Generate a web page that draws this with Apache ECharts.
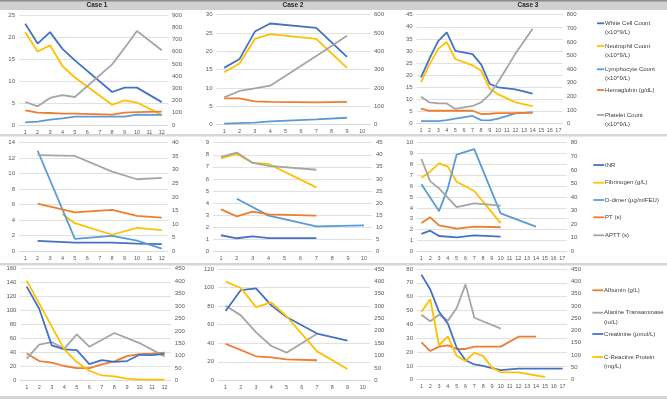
<!DOCTYPE html>
<html><head><meta charset="utf-8">
<script src="https://cdn.jsdelivr.net/npm/echarts@6/dist/echarts.min.js"></script>
<style>html,body{margin:0;padding:0;background:#fff}#c{width:667px;height:402px}</style>
</head><body><div id="c"></div>
<script>
// ---------- categories (day numbers) ----------
const case1Days = ['1','2','3','4','5','6','7','8','9','10','11','12'];
const case2Days = ['1','2','3','4','5','6','7','8','9','10'];
const case3Days = ['1','2','3','4','5','6','7','8','9','10','11','12','13','14','15','16','17'];
const caseTitles = ['Case 1','Case 2','Case 3'];

// ---------- Row 1: blood counts ----------
const c1Wbc = [23.0,18.5,21.1,17.3,14.7,null,null,7.5,8.5,8.5,null,5.2];
const c1Neu = [21.1,16.7,18.1,13.4,10.8,null,null,4.6,5.6,5.1,null,2.3];
const c1Lym = [0.6,0.75,1.2,1.5,1.9,null,null,1.9,1.9,2.35,null,2.3];
const c1Hb  = [120,101,98,93,93,null,null,85,101,106,null,109];
const c1Plt = [188,153,221,245,229,null,null,496,630,769,null,611];

const c2Wbc = [15.5,17.9,25.4,27.6,null,null,26.4,null,18.5,null];
const c2Neu = [14.3,16.7,23.4,24.7,null,null,23.4,null,15.5,null];
const c2Lym = [0.3,0.45,0.55,0.9,null,null,1.45,null,1.9,null];
const c2Hb  = [144,144,127,124,null,null,122,null,124,null];
const c2Plt = [149,184,198,213,null,null,375,null,485,null];

const c3Wbc = [19.1,27.0,34.1,37.7,30.1,null,28.7,24.5,16.4,15.0,null,14.2,null,12.4,null,null,null];
const c3Neu = [17.2,24.5,30.9,33.7,26.7,null,24.1,21.9,14.4,12.1,null,8.8,null,7.3,null,null,null];
const c3Lym = [1.1,1.1,1.1,1.5,2.1,null,3.2,1.5,1.4,2.1,null,4.3,null,4.7,null,null,null];
const c3Hb  = [110,95,95,95,95,null,95,71,73,78,null,78,null,81,null,null,null];
const c3Plt = [198,156,149,149,108,null,130,156,215,308,410,516,null,697,null,null,null];

// ---------- Row 2: coagulation ----------
const c1Inr  = [null,1.3,null,null,1.08,null,null,1.08,null,0.95,null,0.9];
const c1Fib  = [null,null,null,4.75,3.6,null,null,2.1,null,3.0,null,2.7];
const c1Dd   = [null,12.96,null,null,1.56,null,null,1.95,null,1.34,null,0.3];
const c1Pt   = [null,17.5,null,null,14.3,null,null,15.2,null,13.0,null,12.3];
const c1Aptt = [null,35.4,null,null,35.1,null,null,29.3,null,26.5,null,27.0];

const c2Inr  = [1.33,1.08,1.24,1.1,null,null,1.1,null,null,null];
const c2Fib  = [7.7,8.07,7.32,7.24,null,null,5.3,null,null,null];
const c2Dd   = [null,4.36,null,2.96,null,null,2.07,null,null,2.15];
const c2Pt   = [17.4,14.5,16.4,15.3,null,null,14.8,null,null,null];
const c2Aptt = [39.1,40.9,36.6,35.4,null,null,33.8,null,null,null];

const c3Inr  = [1.6,1.9,1.41,null,1.29,null,1.47,null,null,1.35,null,null,null,null,null,null,null];
const c3Fib  = [6.78,7.33,8.1,7.8,6.4,null,5.55,null,null,2.6,null,null,null,null,null,null,null];
const c3Dd   = [6.17,null,3.7,5.8,8.9,null,9.4,null,null,3.5,null,null,null,2.27,null,null,null];
const c3Pt   = [20.9,25.0,19.1,null,16.7,null,18.2,null,null,17.7,null,null,null,null,null,null,null];
const c3Aptt = [68,51.5,46.4,null,32.6,null,35.3,null,null,33.6,null,null,null,null,null,null,null];

// ---------- Row 3: biochemistry ----------
const c1Alb = [39,28.1,25.7,21,18.1,18.1,23.3,27.6,35.2,38.1,38.6,40];
const c1Alt = [31.4,51.4,55.2,45.7,66.2,48.6,null,68.1,null,53.8,null,34.8];
const c1Cr  = [378,289,142,126,123,67,83,76,79,104,103,108];
const c1Crp = [402,null,null,126,75,40,21,17,8,4,4,4];

const c2Alb = [39.2,null,25.9,24.8,22.6,null,21.6,null,null,null];
const c2Alt = [80.5,70,51.7,37,29.8,null,50.3,null,null,null];
const c2Cr  = [280,365,372,303,256,null,189,null,160,null];
const c2Crp = [399,373,296,315,259,null,117,null,46,null];

const c3Alb = [27,20.7,23.9,24.8,22.2,22.2,23.9,null,null,23.9,null,31.1,null,31.1,null,null,null];
const c3Alt = [47,42.2,47,42.7,51.8,68.9,44.8,null,null,36.9,null,null,null,null,null,null,null];
const c3Cr  = [427,367,276,228,130,79,62,56,47,39,null,45,null,null,null,null,45];
const c3Crp = [275,327,140,176,96,76,110,96,49,30,null,30,null,null,11,null,null];

// ---------- series names / legend labels ----------
const row1Names = ['White Cell Count (x10^9/L)','Neutrophil Count (x10^9/L)','Lymphocyte Count (x10^9/L)','Hemaglobin (g/dL)','Platelet Count (x10^9/L)'];
const row2Names = ['INR','Fibrinogen (g/L)','D-dimer (μg/mlFEU)','PT (s)','APTT (s)'];
const row3Names = ['Albumin (g/L)','Alanine Transaminase (iu/L)','Creatinine (μmol/L)','C-Reactive Protein (mg/L)'];
const row1Legend = ['White Cell Count\n(x10^9/L)','Neutrophil Count\n(x10^9/L)','Lymphocyte Count\n(x10^9/L)','Hemaglobin (g/dL)','Platelet Count\n(x10^9/L)'];
const row2Legend = ['INR','Fibrinogen (g/L)','D-dimer (μg/mlFEU)','PT (s)','APTT (s)'];
const row3Legend = ['Albumin (g/L)','Alanine Transaminase\n(iu/L)','Creatinine (μmol/L)','C-Reactive Protein\n(mg/L)'];

// ---------- axis scales ----------
const leftMax  = [[25,30,45],[14,9,10],[160,120,80]];
const leftStep = [[5,5,5],[2,1,1],[20,20,10]];
const rightMax = [[900,600,800],[40,45,80],[450,450,450]];
const rightStep= [[100,100,100],[5,5,10],[50,50,50]];

// ---------- styling ----------
const C_DB = '#4472C4', C_Y = '#FFC000', C_LB = '#5B9BD5', C_O = '#ED7D31', C_G = '#A5A5A5';
const row1Colors = [C_DB, C_Y, C_LB, C_O, C_G];
const row2Colors = [C_DB, C_Y, C_LB, C_O, C_G];
const row3Colors = [C_O, C_G, C_DB, C_Y];
const row1Axis = ['L','L','L','R','R'];
const row2Axis = ['L','L','L','R','R'];
const row3Axis = ['L','L','R','R'];

const gridBoxes = [
  [{left:19,top:15,width:149,height:110},{left:216.5,top:14.7,width:153.5,height:110},{left:416.7,top:14.7,width:146,height:109}],
  [{left:19,top:142.7,width:149,height:108.3},{left:213,top:142.7,width:159,height:108.6},{left:417,top:142.7,width:149.7,height:108.6}],
  [{left:20.4,top:268.7,width:150.4,height:112},{left:218,top:269,width:152.3,height:111.3},{left:417,top:269,width:150,height:110.7}]
];

const rowData = [
  [[c1Wbc,c1Neu,c1Lym,c1Hb,c1Plt],[c2Wbc,c2Neu,c2Lym,c2Hb,c2Plt],[c3Wbc,c3Neu,c3Lym,c3Hb,c3Plt]],
  [[c1Inr,c1Fib,c1Dd,c1Pt,c1Aptt],[c2Inr,c2Fib,c2Dd,c2Pt,c2Aptt],[c3Inr,c3Fib,c3Dd,c3Pt,c3Aptt]],
  [[c1Alb,c1Alt,c1Cr,c1Crp],[c2Alb,c2Alt,c2Cr,c2Crp],[c3Alb,c3Alt,c3Cr,c3Crp]]
];
const rowNames = [row1Names,row2Names,row3Names];
const rowColors = [row1Colors,row2Colors,row3Colors];
const rowAxis = [row1Axis,row2Axis,row3Axis];
const caseDays = [case1Days,case2Days,case3Days];

const FONT = 'Liberation Sans';
const labelStyle = {fontSize:6, color:'#595959', fontFamily:FONT};

const grid=[], xAxis=[], yAxis=[], series=[];
for (let r=0;r<3;r++){
  for (let c=0;c<3;c++){
    const gi = grid.length;
    grid.push(Object.assign({containLabel:false}, gridBoxes[r][c]));
    xAxis.push({gridIndex:gi,type:'category',data:caseDays[c],boundaryGap:true,
      axisLine:{show:true,lineStyle:{color:'#D9D9D9',width:1}},
      axisTick:{show:false},
      axisLabel:Object.assign({interval:0,margin:4,fontSize:5.5},{color:'#595959',fontFamily:FONT})});
    yAxis.push({gridIndex:gi,type:'value',position:'left',min:0,max:leftMax[r][c],interval:leftStep[r][c],
      axisLine:{show:false},axisTick:{show:false},
      axisLabel:Object.assign({margin:4},labelStyle),
      splitLine:{show:true,lineStyle:{color:'#D9D9D9',width:0.8}}});
    yAxis.push({gridIndex:gi,type:'value',position:'right',min:0,max:rightMax[r][c],interval:rightStep[r][c],
      axisLine:{show:false},axisTick:{show:false},
      axisLabel:Object.assign({margin:4},labelStyle),
      splitLine:{show:false}});
    const dataSets = rowData[r][c];
    for (let k=0;k<dataSets.length;k++){
      series.push({type:'line',name:rowNames[r][k],xAxisIndex:gi,
        yAxisIndex: rowAxis[r][k]==='L' ? 2*gi : 2*gi+1,
        data:dataSets[k],connectNulls:true,showSymbol:false,symbol:'none',
        lineStyle:{color:rowColors[r][k],width:1.8},itemStyle:{color:rowColors[r][k]},
        animation:false,silent:true});
    }
  }
}

// ---------- graphic: header bar, separators, legends ----------
const graphic = [];
graphic.push({type:'rect',shape:{x:0,y:0,width:667,height:10},style:{fill:'#D0D0D0'}});
graphic.push({type:'rect',shape:{x:0,y:0,width:667,height:1.5},style:{fill:'#8C8C8C'}});
const headerX = [97,293,528];
for (let i=0;i<3;i++){
  graphic.push({type:'text',x:headerX[i],y:5.5,style:{text:caseTitles[i],fill:'#262626',
    font:'bold 6.5px '+FONT,align:'center',verticalAlign:'middle'}});
}
[[134,2.5],[263,2.5],[396,3]].forEach(([y,h])=>{
  graphic.push({type:'rect',shape:{x:0,y:y,width:667,height:h},style:{fill:'#D6D6D6'}});
});
const legendRows = [
  {labels:row1Legend,colors:row1Colors,ys:[23.3,46,69.3,90,115],x0:597,x1:604.3},
  {labels:row2Legend,colors:row2Colors,ys:[165,182.7,200,217.3,235.3],x0:593.3,x1:604.3},
  {labels:row3Legend,colors:row3Colors,ys:[290.3,312.7,334,357],x0:592.3,x1:603.3}
];
legendRows.forEach(lr=>{
  lr.labels.forEach((lab,k)=>{
    const y = lr.ys[k];
    graphic.push({type:'line',shape:{x1:lr.x0,y1:y,x2:lr.x1,y2:y},style:{stroke:lr.colors[k],lineWidth:1.8}});
    graphic.push({type:'text',x:lr.x1+0.8,y:y-4.7,style:{text:lab,fill:'#404040',
      font:'6px '+FONT,lineHeight:9.4,align:'left',verticalAlign:'top'}});
  });
});

const chart = echarts.init(document.getElementById('c'),null,{renderer:'canvas'});
chart.setOption({animation:false,grid,xAxis,yAxis,series,graphic});
</script></body></html>
